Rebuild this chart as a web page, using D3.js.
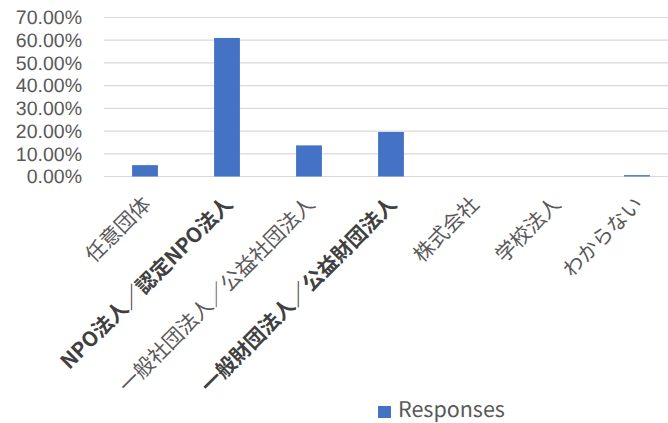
<!DOCTYPE html>
<html>
<head>
<meta charset="utf-8">
<script src="https://cdn.jsdelivr.net/npm/d3@7"></script>
<style>
  body { margin: 0; background: #fff; }
  svg { display: block; font-family: "Noto Sans CJK JP", "Noto Sans", sans-serif; text-rendering: geometricPrecision; }
</style>
</head>
<body>
<div id="chart"></div>
<script>
const categories = ['任意団体', 'NPO法人／認定NPO法人', '一般社団法人／公益社団法人', '一般財団法人／公益財団法人', '株式会社', '学校法人', 'わからない']
const responses = [0.05, 0.61, 0.137, 0.196, 0, 0, 0.006]
const boldCats = ['NPO法人／認定NPO法人', '一般財団法人／公益財団法人']
const yTicks = [0, 0.1, 0.2, 0.3, 0.4, 0.5, 0.6, 0.7]
const seriesName = 'Responses'

const W = 668, H = 423
const margin = { top: 17.5, left: 104, plotRight: 678, bottom: 176.5 }

const svg = d3.select('#chart').append('svg')
  .attr('width', W)
  .attr('height', H)

const x = d3.scaleBand()
  .domain(categories)
  .range([margin.left, margin.plotRight])
  .paddingInner(0.685)
  .paddingOuter(0.3425)

const y = d3.scaleLinear()
  .domain([0, 0.7])
  .range([margin.bottom, margin.top])

/* gridlines */
svg.append('g')
  .selectAll('line')
  .data(yTicks)
  .join('line')
  .attr('x1', margin.left)
  .attr('x2', margin.plotRight)
  .attr('y1', d => y(d))
  .attr('y2', d => y(d))
  .attr('stroke', '#d9d9d9')
  .attr('stroke-width', 1.2)

/* y axis */
const yAxis = svg.append('g')
  .attr('transform', `translate(${margin.left},0)`)
  .call(d3.axisLeft(y).tickValues(yTicks).tickFormat(d3.format('.2%')).tickSize(0).tickPadding(22))
yAxis.select('.domain').remove()
yAxis.selectAll('.tick text')
  .attr('fill', '#595959')
  .style('font-size', '19.5px')
  .style('font-family', '"Liberation Sans", sans-serif')

/* bars */
svg.append('g')
  .selectAll('rect')
  .data(responses)
  .join('rect')
  .attr('x', (d, i) => x(categories[i]))
  .attr('width', x.bandwidth())
  .attr('y', d => y(d))
  .attr('height', d => y(0) - y(d))
  .attr('fill', '#4472c4')

/* x axis labels */
const xAxis = svg.append('g')
  .attr('transform', `translate(0,${margin.bottom})`)
  .call(d3.axisBottom(x).tickSize(0).tickPadding(0))
xAxis.select('.domain').remove()
xAxis.selectAll('.tick text')
  .attr('text-anchor', 'end')
  .attr('transform', 'translate(7,29) rotate(-45)')
  .attr('dy', 0)
  .attr('y', 0)
  .attr('fill', d => boldCats.includes(d) ? '#404040' : '#595959')
  .style('font-weight', d => boldCats.includes(d) ? 'bold' : 'normal')
  .style('font-size', '20.5px')
  .style('font-family', '"Noto Sans CJK JP", sans-serif')

/* legend */
const legend = svg.append('g').attr('transform', 'translate(378,406)')
legend.append('rect')
  .attr('width', 13)
  .attr('height', 12)
  .attr('fill', '#4472c4')
legend.append('text')
  .attr('x', 20)
  .attr('y', 11)
  .attr('fill', '#595959')
  .style('font-size', '21.5px')
  .text(seriesName)
</script>
</body>
</html>
